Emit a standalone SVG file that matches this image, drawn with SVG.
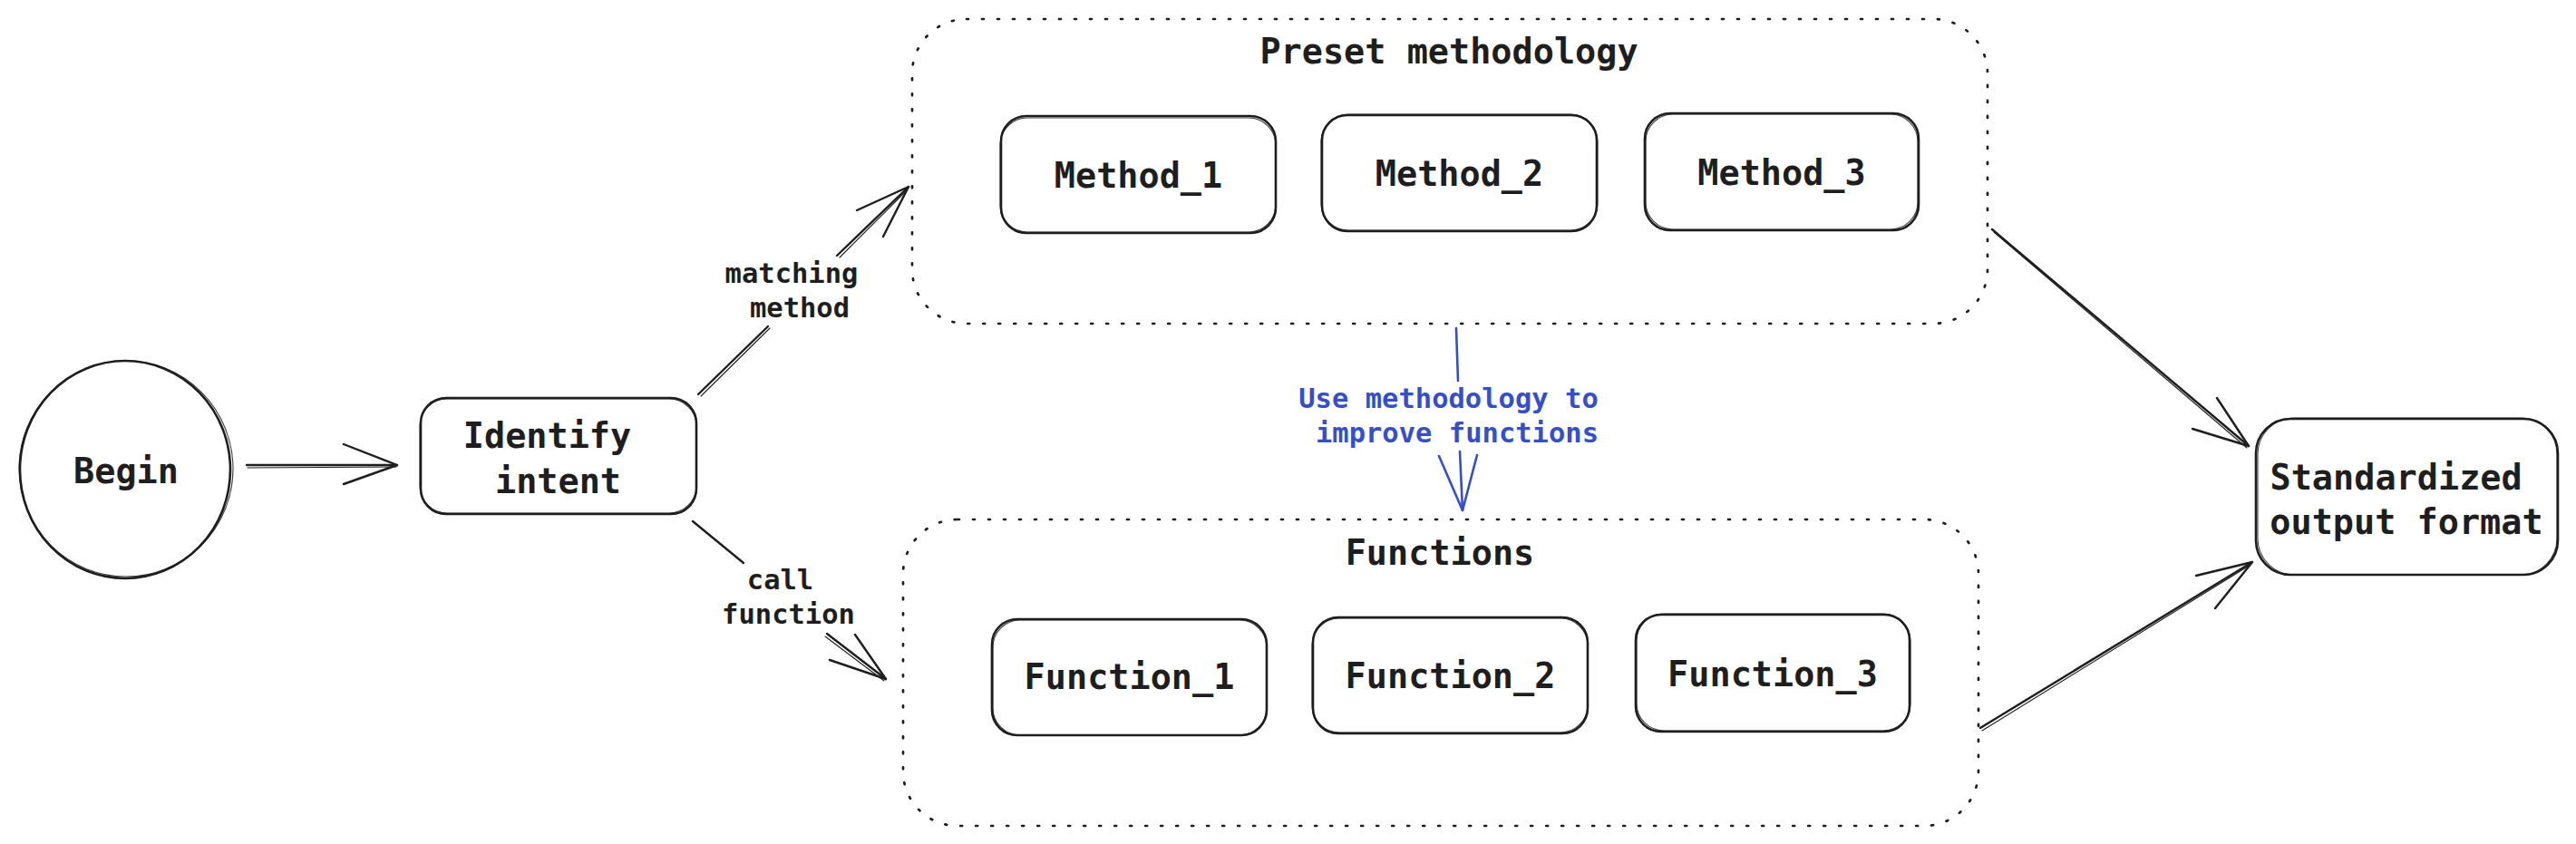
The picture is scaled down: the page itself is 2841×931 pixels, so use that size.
<svg xmlns="http://www.w3.org/2000/svg" width="2841" height="931" viewBox="0 0 2841 931">
<style>
  .bg { fill: #ffffff; }
  .node { fill: none; stroke: #1e1e1e; stroke-width: 2.6; stroke-linejoin: round; }
  .ghost { fill: none; stroke: #1e1e1e; stroke-width: 1.1; opacity: 0.85; }
  .group { fill: none; stroke: #1e1e1e; stroke-width: 2.7; stroke-dasharray: 2 15; stroke-linecap: round; }
  .conn { fill: none; stroke: #1e1e1e; stroke-width: 2.4; stroke-linecap: round; stroke-linejoin: round; }
  .conn2 { fill: none; stroke: #1e1e1e; stroke-width: 1.1; stroke-linecap: round; }
  .blue { fill: none; stroke: #364fc7; stroke-width: 2.6; stroke-linecap: round; stroke-linejoin: round; }
  .t { font-family: "DejaVu Sans Mono", "Liberation Mono", monospace; font-weight: bold; font-size: 38.5px; fill: #1e1e1e; text-anchor: middle; }
  .lbl { font-family: "DejaVu Sans Mono", "Liberation Mono", monospace; font-weight: bold; font-size: 30.5px; fill: #1e1e1e; text-anchor: middle; }
  .lblb { font-family: "DejaVu Sans Mono", "Liberation Mono", monospace; font-weight: bold; font-size: 30.5px; fill: #364fc7; text-anchor: middle; }
</style>
<rect class="bg" x="0" y="0" width="2841" height="931"/>

<g id="preset-methodology">
  <rect class="group" x="1006" y="21" width="1186" height="336" rx="60"/>
  <text class="t" x="1598" y="70">Preset methodology</text>
</g>
<g id="functions">
  <rect class="group" x="996" y="573" width="1186" height="338" rx="60"/>
  <text class="t" x="1588" y="623">Functions</text>
</g>

<g id="begin">
  <ellipse class="node" cx="138" cy="518" rx="116" ry="120"/>
  <ellipse class="ghost" cx="139" cy="517" rx="118" ry="119"/>
  <text class="t" x="139" y="533">Begin</text>
</g>

<g id="identify-intent">
  <rect class="node" x="464" y="439" width="304" height="128" rx="28"/>
  <rect class="ghost" x="463" y="440" width="305" height="126" rx="30"/>
  <text class="t" x="603.5" y="494">Identify</text>
  <text class="t" x="615.5" y="544">intent</text>
</g>

<g id="method-1">
  <rect class="node" x="1104" y="128" width="303" height="129" rx="28"/>
  <rect class="ghost" x="1103" y="130" width="304" height="126" rx="30"/>
  <text class="t" x="1255.5" y="207">Method_1</text>
</g>
<g id="method-2">
  <rect class="node" x="1458" y="127" width="303" height="128" rx="28"/>
  <rect class="ghost" x="1457" y="126" width="305" height="128" rx="30"/>
  <text class="t" x="1609.5" y="205">Method_2</text>
</g>
<g id="method-3">
  <rect class="node" x="1814" y="125" width="302" height="129" rx="28"/>
  <rect class="ghost" x="1815" y="126" width="300" height="127" rx="30"/>
  <text class="t" x="1965" y="204">Method_3</text>
</g>

<g id="function-1">
  <rect class="node" x="1094" y="683" width="303" height="128" rx="28"/>
  <rect class="ghost" x="1095" y="684" width="302" height="127" rx="30"/>
  <text class="t" x="1245.5" y="760">Function_1</text>
</g>
<g id="function-2">
  <rect class="node" x="1448" y="681" width="303" height="128" rx="28"/>
  <rect class="ghost" x="1447" y="682" width="304" height="126" rx="30"/>
  <text class="t" x="1599.5" y="759">Function_2</text>
</g>
<g id="function-3">
  <rect class="node" x="1804" y="678" width="302" height="129" rx="28"/>
  <rect class="ghost" x="1805" y="677" width="302" height="129" rx="30"/>
  <text class="t" x="1955" y="757">Function_3</text>
</g>

<g id="standardized-output-format">
  <rect class="node" x="2488" y="462" width="333" height="172" rx="38"/>
  <rect class="ghost" x="2490" y="461" width="330" height="173" rx="40"/>
  <text class="t" x="2642.6" y="540">Standardized</text>
  <text class="t" x="2654" y="589">output format</text>
</g>

<g id="connectors">
  <!-- Begin -> Identify intent -->
  <path class="conn" d="M272,513 L438,513"/>
  <path class="conn2" d="M273,516 L437,515"/>
  <path class="conn" d="M379,490 L438,513 L379,534"/>

  <!-- Identify intent -> Preset methodology -->
  <path class="conn" d="M770,435 L847,360"/>
  <path class="conn2" d="M773,437 L849,362"/>
  <path class="conn" d="M923,282 L1002,206"/>
  <path class="conn2" d="M926,284 L1000,210"/>
  <path class="conn" d="M945,232 L1002,206 L974,261"/>
  <text class="lbl" x="873" y="312">matching</text>
  <text class="lbl" x="882" y="350">method</text>

  <!-- Identify intent -> Functions -->
  <path class="conn" d="M764,575 L820,621"/>
  <path class="conn" d="M912,699 L977,749"/>
  <path class="conn2" d="M910,702 L975,751"/>
  <path class="conn" d="M915,728 L977,749 L943,700"/>
  <text class="lbl" x="860.5" y="650">call</text>
  <text class="lbl" x="869.5" y="688">function</text>

  <!-- Preset methodology -> Standardized output format -->
  <path class="conn" d="M2197,253 L2480,492"/>
  <path class="conn2" d="M2199,256 L2478,494"/>
  <path class="conn" d="M2445,439 L2480,492 L2418,473"/>

  <!-- Functions -> Standardized output format -->
  <path class="conn" d="M2184,803 L2484,620"/>
  <path class="conn2" d="M2186,806 L2482,623"/>
  <path class="conn" d="M2422,635 L2484,620 L2443,671"/>

  <!-- Preset methodology -> Functions (blue) -->
  <path class="blue" d="M1606,362 L1608,420"/>
  <path class="blue" d="M1610,498 L1613,563"/>
  <path class="blue" d="M1587,503 L1613,563 L1629,502"/>
  <text class="lblb" x="1597.5" y="450">Use methodology to</text>
  <text class="lblb" x="1607" y="488">improve functions</text>
</g>
</svg>
